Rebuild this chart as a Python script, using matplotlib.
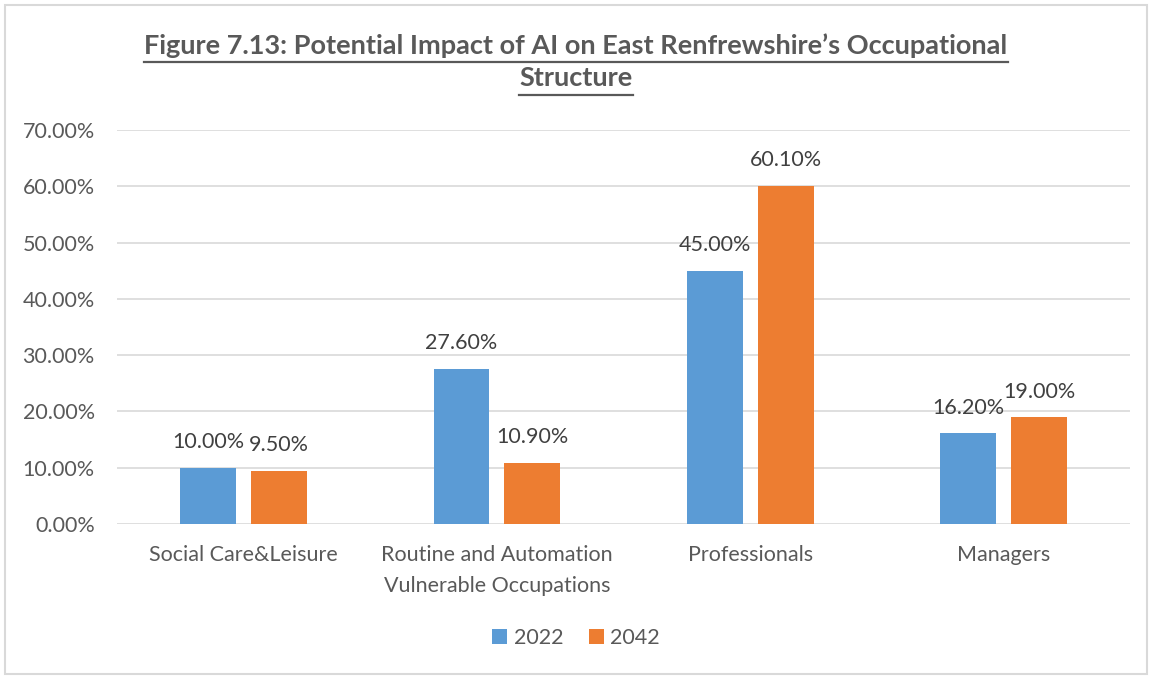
import numpy as np
import matplotlib
matplotlib.use("Agg")
import matplotlib.pyplot as plt
from matplotlib.patches import Rectangle
from matplotlib.lines import Line2D

plt.rcParams['font.family'] = ['Lato', 'DejaVu Sans']

# data
categories = ['Social Care&Leisure', 'Routine and Automation\nVulnerable Occupations',
              'Professionals', 'Managers']
v2022 = [10.0, 27.6, 45.0, 16.2]
v2042 = [9.5, 10.9, 60.1, 19.0]
series = ['2022', '2042']
yticks = [0, 10, 20, 30, 40, 50, 60, 70]

blue = '#5B9BD5'
orange = '#ED7D31'
txt = '#595959'

fig = plt.figure(figsize=(11.52, 6.79), dpi=100)
fig.patches.append(Rectangle((5/1152, 5/679), 1 - 10/1152, 1 - 10/679,
                             transform=fig.transFigure, fill=False,
                             edgecolor='#D9D9D9', linewidth=1.5))

ax = fig.add_axes([0.1016, 0.2283, 0.8794, 0.5802])
x = np.arange(len(categories))
w = 0.221
off = 0.14
b1 = ax.bar(x - off, v2022, w, color=blue, label=series[0], zorder=3)
b2 = ax.bar(x + off, v2042, w, color=orange, label=series[1], zorder=3)

for bars, vals in ((b1, v2022), (b2, v2042)):
    for r, v in zip(bars, vals):
        ax.annotate(f'{v:.2f}%', (r.get_x() + r.get_width()/2, v),
                    xytext=(0, 11), textcoords='offset points',
                    ha='center', va='bottom', fontsize=15.5, color='#404040')

ax.set_xlim(-0.5, 3.5)
ax.set_ylim(0, 70)
ax.set_yticks(yticks)
ax.set_yticklabels([f'{t:.2f}%' for t in yticks])
ax.set_xticks(x)
ax.set_xticklabels(categories, linespacing=1.7)
ax.tick_params(axis='both', length=0, labelsize=15.5, labelcolor=txt)
ax.tick_params(axis='y', pad=16)
ax.tick_params(axis='x', pad=15)
ax.grid(axis='y', color='#D9D9D9', linewidth=1.2, zorder=0)
for s in ax.spines.values():
    s.set_visible(False)

leg = fig.legend(loc='center', bbox_to_anchor=(0.5, 0.061), ncol=2, frameon=False,
                 fontsize=15.5, handlelength=0.7, handleheight=0.7,
                 handletextpad=0.3, columnspacing=1.2)
for t in leg.get_texts():
    t.set_color(txt)

# title with underline
title_lines = ['Figure 7.13: Potential Impact of AI on East Renfrewshire\u2019s Occupational',
               'Structure']
ys = [0.933, 0.885]
fig.canvas.draw()
r = fig.canvas.get_renderer()
for line, yy in zip(title_lines, ys):
    t = fig.text(0.5, yy, line, ha='center', va='center', fontsize=19.5,
                 fontweight='bold', color=txt)
    bb = t.get_window_extent(renderer=r).transformed(fig.transFigure.inverted())
    uy = yy - 0.025
    fig.add_artist(Line2D([bb.x0, bb.x1], [uy, uy], transform=fig.transFigure,
                          color=txt, linewidth=1.6))

fig.savefig('out.png', dpi=100)
